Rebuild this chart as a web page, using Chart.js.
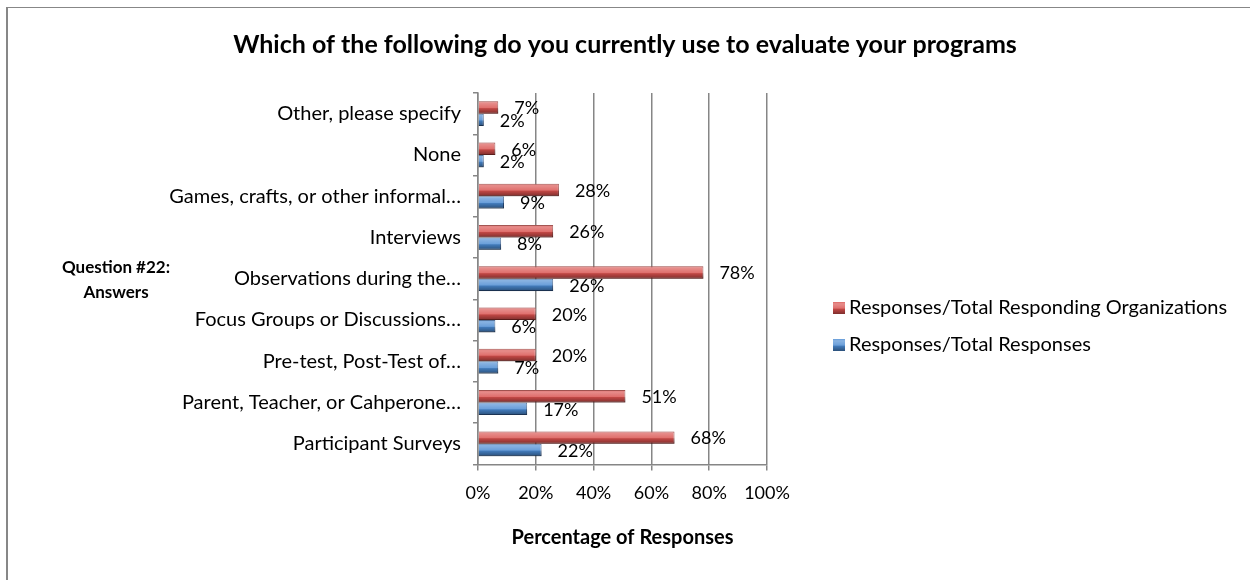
<!DOCTYPE html>
<html>
<head>
<meta charset="utf-8">
<script src="https://cdn.jsdelivr.net/npm/chart.js@4.4.0/dist/chart.umd.min.js"></script>
<style>
  html, body { margin: 0; padding: 0; background: #fff; }
  #wrap { position: relative; width: 1250px; height: 580px; overflow: hidden; }
  #frame { position: absolute; left: 6px; top: 7px; width: 1300px; height: 600px;
           border-left: 2px solid #878787; border-top: 1px solid #878787; }
  canvas { position: absolute; left: 0; top: 0; }
</style>
</head>
<body>
<div id="wrap">
  <div id="frame"></div>
  <canvas id="barChart" width="1250" height="580"></canvas>
</div>
<script>
const chartTitle = 'Which of the following do you currently use to evaluate your programs';
const answers = [
  'Other, please specify',
  'None',
  'Games, crafts, or other informal…',
  'Interviews',
  'Observations during the…',
  'Focus Groups or Discussions…',
  'Pre-test, Post-Test of…',
  'Parent, Teacher, or Cahperone…',
  'Participant Surveys'
];
const orgPercent = [7, 6, 28, 26, 78, 20, 20, 51, 68];
const responsePercent = [2, 2, 9, 8, 26, 6, 7, 17, 22];
const seriesNames = ['Responses/Total Responding Organizations', 'Responses/Total Responses'];
const xTicks = [0, 20, 40, 60, 80, 100];
const xTitle = 'Percentage of Responses';
const yTitleLines = ['Question #22:', 'Answers'];

const FONT = 'Lato';
Chart.defaults.font.family = FONT;
Chart.defaults.color = '#000';

function shade(ctx, top, h) {
  const g = ctx.createLinearGradient(0, top, 0, top + h);
  g.addColorStop(0, 'rgba(255,255,255,0.15)');
  g.addColorStop(0.15, 'rgba(255,255,255,0.35)');
  g.addColorStop(0.52, 'rgba(255,255,255,0.18)');
  g.addColorStop(0.6, 'rgba(0,0,0,0.12)');
  g.addColorStop(1, 'rgba(0,0,0,0.42)');
  return g;
}

// shaded look on each bar + value labels to the right
const barDecor = {
  id: 'barDecor',
  afterDatasetsDraw(chart) {
    const ctx = chart.ctx;
    ctx.save();
    chart.data.datasets.forEach((ds, di) => {
      const meta = chart.getDatasetMeta(di);
      meta.data.forEach((bar, i) => {
        const p = bar.getProps(['x', 'y', 'base', 'height'], true);
        const left = Math.min(p.base, p.x);
        const w = Math.abs(p.x - p.base);
        const top = p.y - p.height / 2;
        ctx.fillStyle = shade(ctx, top, p.height);
        ctx.fillRect(left, top, w, p.height);

        ctx.fillStyle = '#000';
        ctx.font = '18px ' + FONT;
        ctx.textAlign = 'left';
        ctx.textBaseline = 'middle';
        ctx.fillText(ds.data[i] + '%', p.x + 16, p.y + 1);
      });
    });
    ctx.restore();
  }
};

// horizontal y-axis title and the legend on the right
const sideText = {
  id: 'sideText',
  afterDraw(chart) {
    const ctx = chart.ctx;
    const area = chart.chartArea;
    ctx.save();
    ctx.fillStyle = '#000';
    ctx.font = 'bold 17px ' + FONT;
    ctx.textAlign = 'center';
    ctx.textBaseline = 'middle';
    const midY = (area.top + area.bottom) / 2;
    yTitleLines.forEach((t, k) => {
      ctx.fillText(t, 116, midY - 11 + k * 25);
    });

    ctx.font = '20px ' + FONT;
    ctx.textAlign = 'left';
    chart.data.datasets.forEach((ds, di) => {
      const cy = 308 + di * 37;
      const bx = area.right + 66;
      ctx.fillStyle = ds.backgroundColor;
      ctx.fillRect(bx, cy - 6, 12, 12);
      ctx.fillStyle = shade(ctx, cy - 6, 12);
      ctx.fillRect(bx, cy - 6, 12, 12);
      ctx.fillStyle = '#000';
      ctx.fillText(ds.label, bx + 16, cy);
    });
    ctx.restore();
  }
};

const ctx = document.getElementById('barChart').getContext('2d');
new Chart(ctx, {
  type: 'bar',
  data: {
    labels: answers,
    datasets: [
      {
        label: seriesNames[0],
        data: orgPercent,
        backgroundColor: '#D9504D',
        borderColor: '#8E2F2C',
        borderWidth: 1,
        categoryPercentage: 0.6,
        barPercentage: 1.0
      },
      {
        label: seriesNames[1],
        data: responsePercent,
        backgroundColor: '#4A8AD2',
        borderColor: '#2A4F80',
        borderWidth: 1,
        categoryPercentage: 0.6,
        barPercentage: 1.0
      }
    ]
  },
  options: {
    indexAxis: 'y',
    responsive: false,
    animation: false,
    layout: { padding: { left: 0, right: 0, top: 0, bottom: 30 } },
    plugins: {
      legend: { display: false },
      tooltip: { enabled: false },
      title: {
        display: true,
        text: chartTitle,
        color: '#000',
        font: { family: FONT, size: 25, weight: 'bold' },
        padding: { top: 30, bottom: 33 }
      }
    },
    scales: {
      x: {
        min: 0,
        max: 100,
        afterBuildTicks: s => { s.ticks = xTicks.map(v => ({ value: v })); },
        ticks: {
          callback: v => v + '%',
          font: { size: 18 },
          color: '#000',
          padding: 12,
          maxRotation: 0
        },
        grid: { color: '#868686', lineWidth: 1.5, tickLength: 6 },
        border: { color: '#868686', width: 1.5 },
        title: {
          display: true,
          text: xTitle,
          color: '#000',
          font: { size: 20, weight: 'bold' },
          padding: { top: 10, bottom: 0 }
        }
      },
      y: {
        afterFit: s => { s.width = 478; },
        ticks: { font: { size: 20 }, color: '#000', padding: 12 },
        grid: { drawOnChartArea: false, color: '#868686', lineWidth: 1.5, tickLength: 5 },
        border: { color: '#868686', width: 1.5 }
      },
      side: {
        type: 'linear',
        position: 'right',
        display: true,
        grid: { display: false },
        border: { display: false },
        ticks: { display: false },
        afterFit: s => { s.width = 483; }
      }
    }
  },
  plugins: [barDecor, sideText]
});
</script>
</body>
</html>
